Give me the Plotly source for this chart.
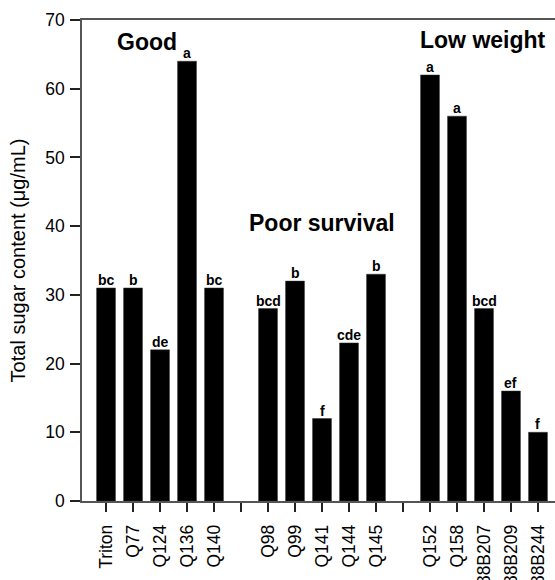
import plotly.graph_objects as go

# ---- data ----
group_names = ["Good", "Poor survival", "Low weight"]
good_lines = ["Triton", "Q77", "Q124", "Q136", "Q140"]
good_values = [31, 31, 22, 64, 31]
good_letters = ["bc", "b", "de", "a", "bc"]

poor_lines = ["Q98", "Q99", "Q141", "Q144", "Q145"]
poor_values = [28, 32, 12, 23, 33]
poor_letters = ["bcd", "b", "f", "cde", "b"]

low_lines = ["Q152", "Q158", "88B207", "88B209", "88B244"]
low_values = [62, 56, 28, 16, 10]
low_letters = ["a", "a", "bcd", "ef", "f"]

y_ticks = [0, 10, 20, 30, 40, 50, 60, 70]
y_title = "Total sugar content (μg/mL)"

groups = [(good_lines, good_values, good_letters),
          (poor_lines, poor_values, poor_letters),
          (low_lines, low_values, low_letters)]

# positions: one empty slot between groups
xs, names, vals, lets = [], [], [], []
tickvals, ticktext = [], []
pos = 0
for gi, (ln, vv, lt) in enumerate(groups):
    for n, v, l in zip(ln, vv, lt):
        xs.append(pos); names.append(n); vals.append(v); lets.append(l)
        tickvals.append(pos); ticktext.append(n)
        pos += 1
    if gi < len(groups) - 1:
        tickvals.append(pos); ticktext.append("")
        pos += 1

FONT = "Liberation Sans, Arial, Helvetica, sans-serif"
AXIS_COLOR = "#555555"

fig = go.Figure()
fig.add_trace(go.Bar(
    x=xs, y=vals, width=0.7,
    marker=dict(color="black", line=dict(color="#333333", width=0.5)),
    hoverinfo="skip", showlegend=False,
))

annotations = []
for x, v, l in zip(xs, vals, lets):
    annotations.append(dict(
        x=x, y=v, xref="x", yref="y", text=f"<b>{l}</b>",
        showarrow=False, yanchor="bottom", xanchor="center", yshift=-2,
        font=dict(family=FONT, size=14, color="black"),
    ))

# group titles (placement in axis units)
group_label_pos = [(1.5, 66.8), (8.0, 40.4), (13.96, 67.1)]
for name, (gx, gy) in zip(group_names, group_label_pos):
    annotations.append(dict(
        x=gx, y=gy, xref="x", yref="y", text=f"<b>{name}</b>",
        showarrow=False, xanchor="center", yanchor="middle",
        font=dict(family=FONT, size=23, color="black"),
    ))

fig.update_layout(
    width=555, height=580,
    margin=dict(l=82, r=0, t=20, b=79, autoexpand=False),
    plot_bgcolor="white", paper_bgcolor="white",
    font=dict(family=FONT, color="black"),
    bargap=0.3,
    annotations=annotations,
    xaxis=dict(
        range=[-0.89, 16.63], tickmode="array", tickvals=tickvals, ticktext=ticktext,
        tickangle=-90, ticks="outside", ticklen=9, tickwidth=1.5, tickcolor="#222222",
        showline=True, linecolor=AXIS_COLOR, linewidth=1.5, mirror=True,
        showgrid=False, zeroline=False, automargin=False, ticklabelstandoff=6,
        tickfont=dict(family=FONT, size=17.5, color="black"),
    ),
    yaxis=dict(
        range=[0, 70], tickmode="array", tickvals=y_ticks,
        ticks="outside", ticklen=10, tickwidth=1.5, tickcolor="#222222",
        showline=True, linecolor=AXIS_COLOR, linewidth=1.5, mirror=False,
        showgrid=False, zeroline=False, automargin=False, ticklabelstandoff=2,
        tickfont=dict(family=FONT, size=17.5, color="black"),
        title=dict(text=y_title, font=dict(family=FONT, size=20, color="black"), standoff=14),
    ),
)

fig.write_html("out.html")
